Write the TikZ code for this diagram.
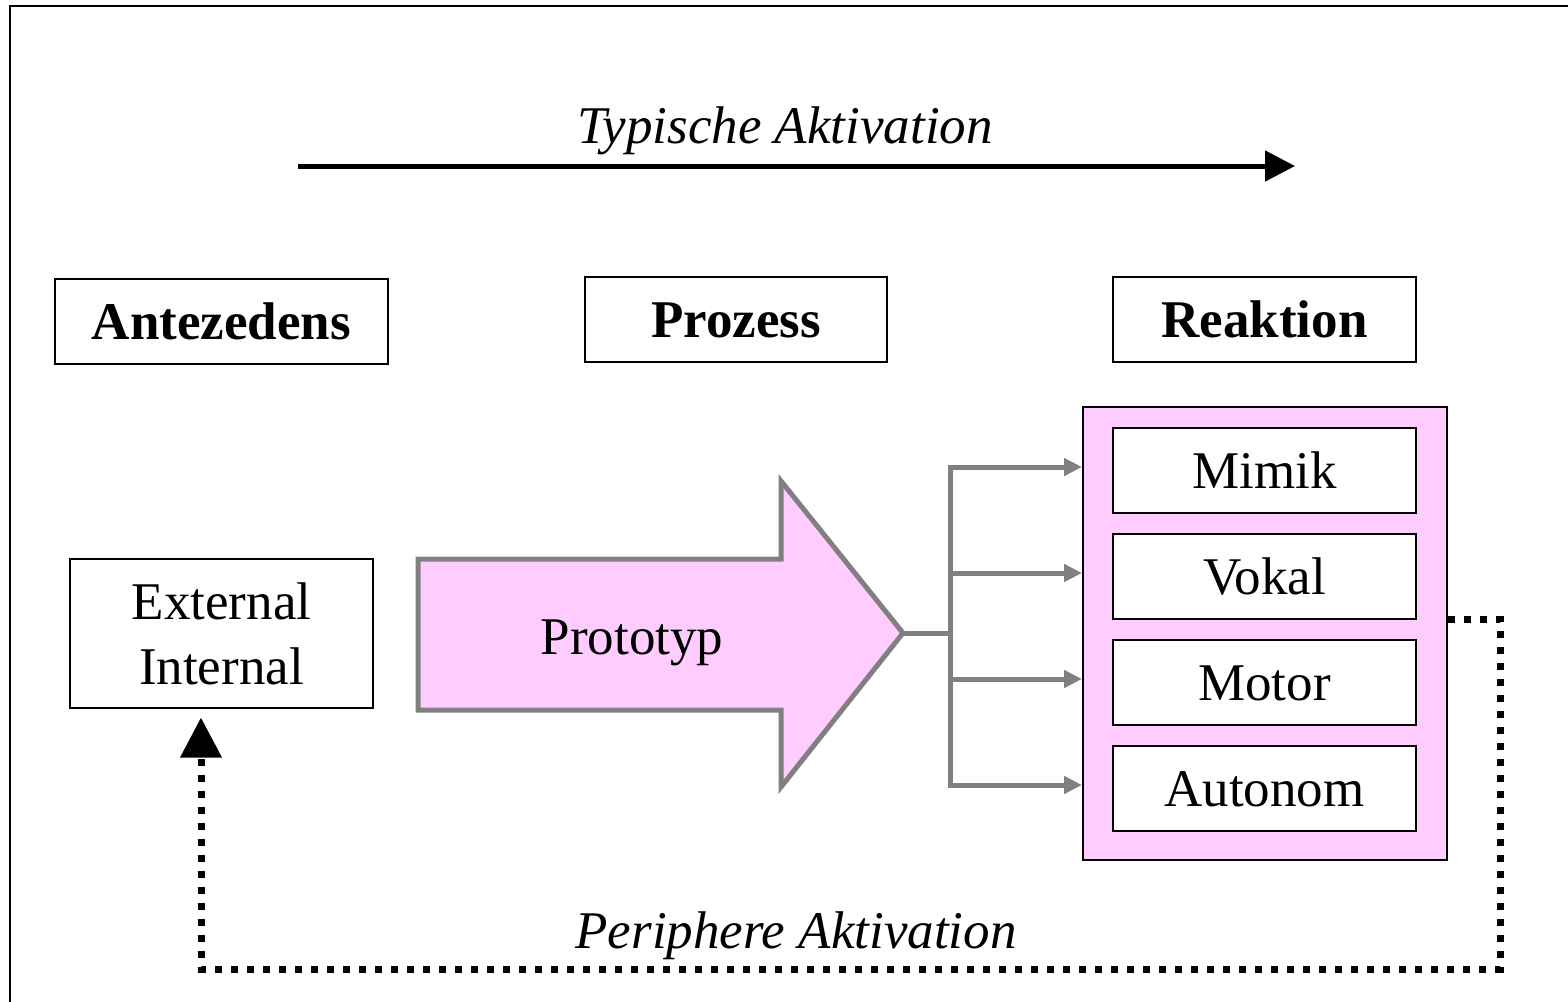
\documentclass[tikz,border=0pt]{standalone}
\usepackage{fontspec}
\setmainfont{Liberation Serif}
\usetikzlibrary{arrows.meta,calc}
\definecolor{pinkfill}{HTML}{FFCCFF}
\definecolor{arrgray}{HTML}{808080}
\begin{document}
\begin{tikzpicture}[x=1pt,y=-1pt,
  bigfont/.style={font=\fontsize{53}{65}\selectfont},
  box/.style={draw=black, line width=2pt, fill=white, inner sep=0pt,
    text height=35pt, text depth=0pt, bigfont},
  hbox/.style={box, minimum width=303pt, minimum height=85pt,
    font=\fontsize{53}{65}\selectfont\bfseries},
  subbox/.style={box, minimum width=303pt, minimum height=85pt},
  gline/.style={draw=arrgray, line width=5pt},
  garrow/.style={gline, -{Triangle[length=18pt,width=17pt]}},
  itlabel/.style={anchor=base, font=\fontsize{53}{65}\selectfont\itshape}]
\useasboundingbox (0,0) rectangle (1568,1001);
% frame
\draw[line width=2.5pt] (10,1010) -- (10,6) -- (1580,6);

% top labels
\node[itlabel] (typ) at (785,143) {Typische Aktivation};
\coordinate (ta1) at (298,166);
\coordinate (ta2) at (1295,166);
\draw[line width=5pt, -{Triangle[length=30pt,width=30pt]}] (ta1) -- (ta2);

% header boxes
\node[hbox, minimum width=333pt] (ante) at (221.5,321.5) {Antezedens};
\node[hbox, minimum width=302pt] (proz) at (736,319.5) {Prozess};
\node[hbox] (reak) at (1264.5,319.5) {Reaktion};

% external / internal
\node[draw=black, line width=2pt, fill=white, inner sep=0pt,
  minimum width=303pt, minimum height=149pt, align=center, bigfont]
  (ext) at (221.5,633.5) {External\\Internal};

% big arrow
\draw[draw=arrgray, fill=pinkfill, line width=5pt, line join=miter]
  (418,559) -- (781,559) -- (781,481) -- (903,633) -- (781,787)
  -- (781,710) -- (418,710) -- cycle;
\coordinate (tip) at (903,633);
\node[anchor=base, bigfont] (proto) at (632,654) {Prototyp};

% reaction container
\node[draw=black, line width=2pt, fill=pinkfill, minimum width=364pt,
  minimum height=453pt, inner sep=0pt] (cont) at (1265,633.5) {};
\node[subbox] (mimik) at (1264.5,470.5) {Mimik};
\node[subbox] (vokal) at (1264.5,576.5) {Vokal};
\node[subbox] (motor) at (1264.5,682.5) {Motor};
\node[subbox] (auto) at (1264.5,788.5) {Autonom};

% gray connectors
\coordinate (split) at (950,633);
\coordinate (b1) at (950,467);
\coordinate (b2) at (950,573);
\coordinate (b3) at (950,679);
\coordinate (b4) at (950,785);
\draw[gline] (tip) -- (split);
\draw[gline, line cap=rect] (b1) -- (b4);
\draw[garrow] (b1) -- (cont.west |- b1);
\draw[garrow] (b2) -- (cont.west |- b2);
\draw[garrow] (b3) -- (cont.west |- b3);
\draw[garrow] (b4) -- (cont.west |- b4);

% feedback loop
\coordinate (fb) at ($(ext.south)+(-20.5,8.5)$);
\coordinate (c1) at (1500,619);
\coordinate (c2) at (1500,969);
\coordinate (c3) at (201,969);
\draw[line width=7pt, dash pattern=on 7pt off 9pt,
  -{Triangle[length=40pt,width=40pt]}]
  (cont.east |- c1) -- (c1) -- (c2) -- (c3) -- (fb);
\node[itlabel] (peri) at (796,948) {Periphere Aktivation};
\end{tikzpicture}
\end{document}
